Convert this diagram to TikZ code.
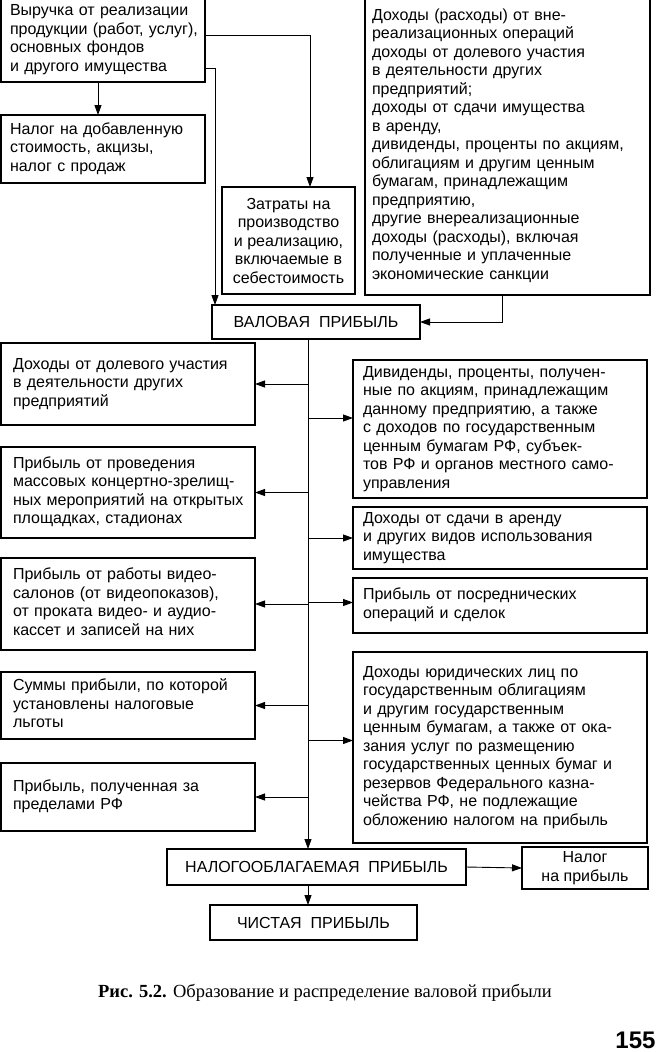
\documentclass[tikz,border=0pt]{standalone}
\usepackage{fontspec}
\setmainfont{Liberation Sans}
\newfontfamily\capfont{Liberation Serif}
\usetikzlibrary{arrows.meta}

\newcommand{\boxlines}[1]{\begin{tabular}{@{}l@{}}#1\end{tabular}}

\tikzset{
    blk/.style = {draw, line width = 1.1pt, anchor = north west, align = left,
                  inner ysep = 0pt, outer sep = 0pt},
    mid/.style = {draw, line width = 1.1pt, anchor = north west, align = center,
                  inner sep = 0pt, outer sep = 0pt},
    arr/.style = {line width = 0.9pt, -{Triangle[length = 10pt, width = 7pt]}}
}

\begin{document}
\begin{tikzpicture}[x = 1pt, y = -1pt, font = \fontsize{16}{18.5}\selectfont]
    \useasboundingbox (0,0) rectangle (660,1052);

    % top row
    \node[blk, inner xsep = 9pt, text width = 186pt, minimum height = 84pt] (rev) at (1,-2)
        {\boxlines{Выручка от реализации\\продукции (работ, услуг),\\основных фондов\\и другого имущества}};
    \node[blk, inner xsep = 9pt, text width = 186pt, minimum height = 68pt] (vat) at (1,115)
        {\boxlines{Налог на добавленную\\стоимость, акцизы,\\налог с продаж}};
    \node[mid, minimum width = 133pt, minimum height = 107pt] (cost) at (222,187)
        {Затраты на\\производство\\и реализацию,\\включаемые в\\себестоимость};
    \node[blk, inner xsep = 7pt, text width = 271pt, minimum height = 298pt] (nonop) at (365,-3)
        {\boxlines{Доходы (расходы) от вне-\\реализационных операций\\доходы от долевого участия\\в деятельности других\\предприятий;\\доходы от сдачи имущества\\в аренду,\\дивиденды, проценты по акциям,\\облигациям и другим ценным\\бумагам, принадлежащим\\предприятию,\\другие внереализационные\\доходы (расходы), включая\\полученные и уплаченные\\экономические санкции}};

    \node[mid, minimum width = 208pt, minimum height = 34pt] (gross) at (212,305)
        {ВАЛОВАЯ\ \ ПРИБЫЛЬ};
    \coordinate (trunk) at ([xshift = -8pt]gross.south);

    % left column
    \node[blk, inner xsep = 12pt, text width = 230pt, minimum height = 82pt] (l1) at (1,343)
        {\boxlines{Доходы от долевого участия\\в деятельности других\\предприятий}};
    \node[blk, inner xsep = 12pt, text width = 230pt, minimum height = 91pt] (l2) at (1,447)
        {\boxlines{Прибыль от проведения\\массовых концертно-зрелищ-\\ных мероприятий на открытых\\площадках, стадионах}};
    \node[blk, inner xsep = 12pt, text width = 230pt, minimum height = 92pt] (l3) at (1,558)
        {\boxlines{Прибыль от работы видео-\\салонов (от видеопоказов),\\от проката видео- и аудио-\\кассет и записей на них}};
    \node[blk, inner xsep = 12pt, text width = 230pt, minimum height = 67pt] (l4) at (1,672)
        {\boxlines{Суммы прибыли, по которой\\установлены налоговые\\льготы}};
    \node[blk, inner xsep = 12pt, text width = 230pt, minimum height = 68pt] (l5) at (1,763)
        {\boxlines{Прибыль, полученная за\\пределами РФ}};

    % right column
    \node[blk, inner xsep = 10pt, text width = 274pt, minimum height = 138pt] (r1) at (353,360)
        {\boxlines{Дивиденды, проценты, получен-\\ные по акциям, принадлежащим\\данному предприятию, а также\\с доходов по государственным\\ценным бумагам РФ, субъек-\\тов РФ и органов местного само-\\управления}};
    \node[blk, inner xsep = 10pt, text width = 274pt, minimum height = 62pt] (r2) at (353,507)
        {\boxlines{Доходы от сдачи в аренду\\и других видов использования\\имущества}};
    \node[blk, inner xsep = 10pt, text width = 274pt, minimum height = 55pt] (r3) at (353,578)
        {\boxlines{Прибыль от посреднических\\операций и сделок}};
    \node[blk, inner xsep = 10pt, text width = 274pt, minimum height = 191pt] (r4) at (353,652)
        {\boxlines{Доходы юридических лиц по\\государственным облигациям\\и другим государственным\\ценным бумагам, а также от ока-\\зания услуг по размещению\\государственных ценных бумаг и\\резервов Федерального казна-\\чейства РФ, не подлежащие\\обложению налогом на прибыль}};

    % bottom
    \node[mid, minimum width = 299pt, minimum height = 36pt] (taxable) at (167,849)
        {НАЛОГООБЛАГАЕМАЯ\ \ ПРИБЫЛЬ};
    \node[mid, minimum width = 126pt, minimum height = 42pt] (tax) at (522,847)
        {Налог\\на прибыль};
    \node[mid, minimum width = 207pt, minimum height = 35pt] (net) at (210,905)
        {ЧИСТАЯ\ \ ПРИБЫЛЬ};

    \node (cap) at (325,993)
        {\capfont\fontsize{18.5}{22}\selectfont\textbf{Рис. 5.2.} Образование и распределение валовой прибыли};
    \node[anchor = east] (page) at (659,1040) {\fontsize{24}{28}\selectfont\bfseries 155};

    % connectors
    \draw[arr] ([xshift = -5pt]rev.south) -- ([xshift = -5pt]vat.north);
    \draw[arr] ([yshift = 5pt]rev.east) -| ([xshift = 21.5pt]cost.north);
    \draw[arr] ([yshift = -28pt]rev.east) -| ([xshift = 3pt]gross.north west);
    \draw[arr] ([xshift = -5.5pt]nonop.south) |- (gross.east);

    \draw[arr] (trunk) -- (trunk |- taxable.north);
    \foreach \b in {l1,l2,l3,l4,l5}
        \draw[arr] (trunk |- \b.east) -- (\b.east);

    \path ([yshift = 11pt]r1.west) coordinate (r1in)
          (r2.west) coordinate (r2in)
          ([yshift = 3pt]r3.west) coordinate (r3in)
          ([yshift = 7pt]r4.west) coordinate (r4in);
    \foreach \b in {r1in,r2in,r3in,r4in}
        \draw[arr] (trunk |- \b) -- (\b);

    \draw[arr] (trunk |- taxable.south) -- (trunk |- net.north);
    \draw[arr] (taxable.east) -- (tax.west);
\end{tikzpicture}
\end{document}
